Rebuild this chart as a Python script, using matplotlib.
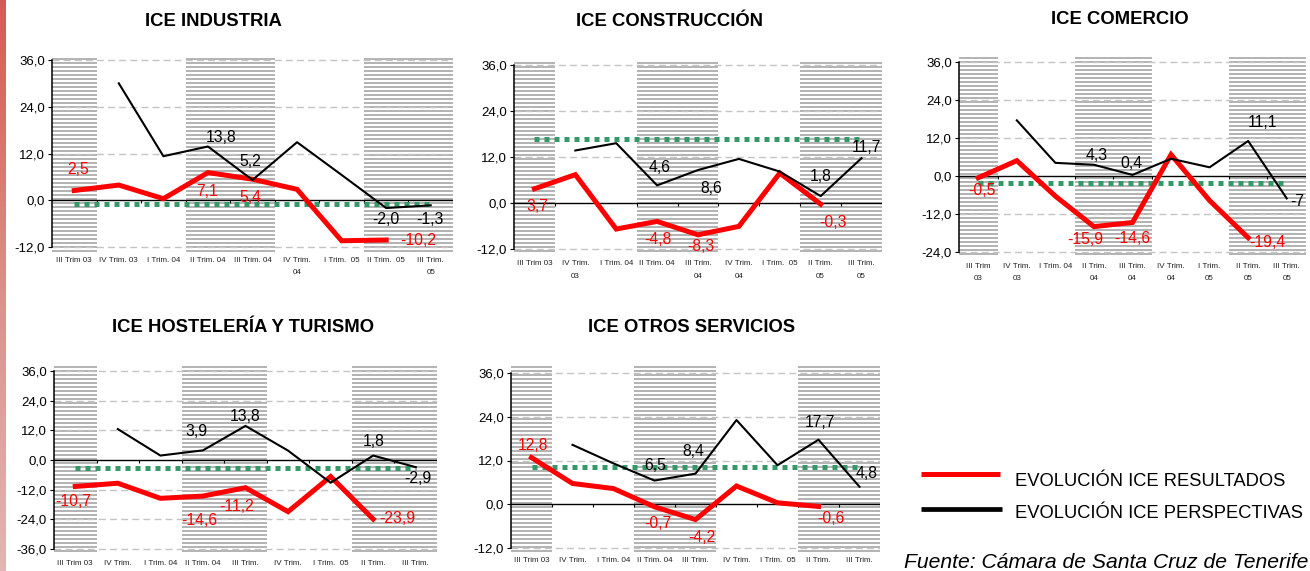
import matplotlib
matplotlib.use('Agg')
import matplotlib.pyplot as plt
import matplotlib.transforms as mtransforms
from matplotlib.colors import LinearSegmentedColormap
import numpy as np

plt.rcParams['font.family'] = ['Liberation Sans', 'DejaVu Sans']

nan = np.nan

# ------------------------------------------------------------------ data
TITLES = ["ICE INDUSTRIA", "ICE CONSTRUCCIÓN", "ICE COMERCIO",
          "ICE HOSTELERÍA Y TURISMO", "ICE OTROS SERVICIOS"]

CATS_IND = ["III Trim 03", "IV Trim. 03", "I Trim. 04", "II Trim. 04", "III Trim. 04",
            "IV Trim.\n04", "I Trim.  05", "II Trim.  05", "III Trim.\n05"]
CATS_CON = ["III Trim 03", "IV Trim.\n03", "I Trim. 04", "II Trim. 04", "III Trim.\n04",
            "IV Trim.\n04", "I Trim.  05", "II Trim.\n05", "III Trim.\n05"]
CATS_COM = ["III Trim\n03", "IV Trim.\n03", "I Trim. 04", "II Trim.\n04", "III Trim.\n04",
            "IV Trim.\n04", "I Trim.\n05", "II Trim.\n05", "III Trim.\n05"]
CATS_HOS = ["III Trim 03", "IV Trim.", "I Trim. 04", "II Trim. 04", "III Trim.",
            "IV Trim.", "I Trim.  05", "II Trim.", "III Trim."]
CATS_OTR = ["III Trim 03", "IV Trim.", "I Trim. 04", "II Trim. 04", "III Trim.",
            "IV Trim.", "I Trim.  05", "II Trim.", "III Trim."]

RES_IND = [2.5, 3.9, 0.4, 7.1, 5.4, 2.8, -10.4, -10.2, nan]
PER_IND = [nan, 30.0, 11.3, 13.8, 5.2, 14.9, 6.5, -2.0, -1.3]
MEAN_IND = -1.0

RES_CON = [3.7, 7.4, -6.8, -4.8, -8.3, -6.1, 7.8, -0.3, nan]
PER_CON = [nan, 13.7, 15.6, 4.6, 8.6, 11.5, 8.2, 1.8, 11.7]
MEAN_CON = 16.7

RES_COM = [-0.5, 4.9, -6.3, -15.9, -14.6, 6.8, -7.7, -19.4, nan]
PER_COM = [nan, 17.6, 4.2, 3.6, 0.4, 5.5, 2.8, 11.1, -7.0]
MEAN_COM = -2.1

RES_HOS = [-10.7, -9.4, -15.5, -14.6, -11.2, -20.9, -6.7, -23.9, nan]
PER_HOS = [nan, 12.5, 1.8, 3.9, 13.8, 3.8, -9.2, 1.8, -2.9]
MEAN_HOS = -3.1

RES_OTR = [12.8, 5.7, 4.3, -0.7, -4.2, 5.0, 0.4, -0.6, nan]
PER_OTR = [nan, 16.3, 11.2, 6.5, 8.4, 23.1, 10.7, 17.7, 4.8]
MEAN_OTR = 10.3

YT_IND = [-12, 0, 12, 24, 36]
YT_CON = [-12, 0, 12, 24, 36]
YT_COM = [-24, -12, 0, 12, 24, 36]
YT_HOS = [-36, -24, -12, 0, 12, 24, 36]
YT_OTR = [-12, 0, 12, 24, 36]

# data labels (index, text)
LAB_RES_IND = [(0, "2,5"), (3, "7,1"), (4, "5,4"), (7, "-10,2")]
LAB_PER_IND = [(3, "13,8"), (4, "5,2"), (7, "-2,0"), (8, "-1,3")]
LAB_RES_CON = [(0, "3,7"), (3, "-4,8"), (4, "-8,3"), (7, "-0,3")]
LAB_PER_CON = [(3, "4,6"), (4, "8,6"), (7, "1,8"), (8, "11,7")]
LAB_RES_COM = [(0, "-0,5"), (3, "-15,9"), (4, "-14,6"), (7, "-19,4")]
LAB_PER_COM = [(3, "4,3"), (4, "0,4"), (7, "11,1"), (8, "-7")]
LAB_RES_HOS = [(0, "-10,7"), (3, "-14,6"), (4, "-11,2"), (7, "-23,9")]
LAB_PER_HOS = [(3, "3,9"), (4, "13,8"), (7, "1,8"), (8, "-2,9")]
LAB_RES_OTR = [(0, "12,8"), (3, "-0,7"), (4, "-4,2"), (7, "-0,6")]
LAB_PER_OTR = [(3, "6,5"), (4, "8,4"), (7, "17,7"), (8, "4,8")]

LEGEND_RES = "EVOLUCIÓN ICE RESULTADOS"
LEGEND_PER = "EVOLUCIÓN ICE PERSPECTIVAS"
SOURCE = "Fuente: Cámara de Santa Cruz de Tenerife"

# ------------------------------------------------------------------ layout / style
W, H = 1310, 571
RED = '#ff0000'
GREEN = '#339966'
STRIPE = '#b4b4b4'
GRID = '#c4c4c4'

# label offsets (pixels right, pixels down)
OFF_RES = [
    [(4, -20.6), (-1, 19.4), (-2, 18.7), (32.5, 1)],
    [(3, 18), (1, 18.6), (3, 12), (12, 18)],
    [(4, 13), (-9, 12.5), (0, 16.5), (19.5, 4.5)],
    [(-2, 15), (-4, 24), (-8.5, 19), (24, -1)],
    [(1.5, -12), (3.5, 17), (6.5, 18), (12.5, 12)],
]
OFF_PER = [
    [(13, -8.5), (-2, -18), (0, 11), (-1, 14.6)],
    [(3, -18), (13, 18), (0, -20), (5, -11)],
    [(3, -9), (-1, -11), (14.5, -18), (11, 3.5)],
    [(-7, -18.7), (0, -9), (0, -14), (2, 11)],
    [(0.5, -15), (-2.5, -22), (1.5, -17), (7.5, -13.4)],
]

# (left, top, right, bottom) px, (px of top tick, px of bottom tick), title centre, label pad px
PANELS = [
    dict(box=(52, 58, 453, 253), tpx=(60, 247), title=(213, 22), pad=4),
    dict(box=(514, 62, 882, 255), tpx=(65, 249), title=(670, 22), pad=5),
    dict(box=(959, 57, 1306, 255), tpx=(62, 252.3), title=(1120, 19), pad=8),
    dict(box=(54, 366, 437, 552), tpx=(371, 549), title=(243, 328), pad=8),
    dict(box=(511, 366, 880, 552), tpx=(373, 548), title=(692, 328), pad=5),
]

SERIES = [
    (CATS_IND, RES_IND, PER_IND, MEAN_IND, YT_IND, LAB_RES_IND, LAB_PER_IND),
    (CATS_CON, RES_CON, PER_CON, MEAN_CON, YT_CON, LAB_RES_CON, LAB_PER_CON),
    (CATS_COM, RES_COM, PER_COM, MEAN_COM, YT_COM, LAB_RES_COM, LAB_PER_COM),
    (CATS_HOS, RES_HOS, PER_HOS, MEAN_HOS, YT_HOS, LAB_RES_HOS, LAB_PER_HOS),
    (CATS_OTR, RES_OTR, PER_OTR, MEAN_OTR, YT_OTR, LAB_RES_OTR, LAB_PER_OTR),
]

fig = plt.figure(figsize=(W / 100, H / 100), dpi=100)

# background overlay (pixel coordinates)
bg = fig.add_axes([0, 0, 1, 1], zorder=-10)
bg.axis('off')
grad = np.linspace(0, 1, 256).reshape(-1, 1)
cmap = LinearSegmentedColormap.from_list('strip', ['#d35c52', '#dc8f8a', '#e6b4b4'])
bg.imshow(grad, cmap=cmap, extent=(0, 6, H, 0), aspect='auto')
bg.set_xlim(0, W)
bg.set_ylim(H, 0)


def fmt(v):
    return f"{v:.1f}".replace('.', ',')


for k, (spec, ser) in enumerate(zip(PANELS, SERIES)):
    cats, res, per, mean, yt, lres, lper = ser
    l, t, r, b = spec['box']
    ptop, pbot = spec['tpx']
    ymin, ymax = yt[0], yt[-1]
    s = (pbot - ptop) / (ymax - ymin)
    hi = ymax + (ptop - t) / s
    lo = ymin - (b - pbot) / s
    ax = fig.add_axes([l / W, 1 - b / H, (r - l) / W, (b - t) / H])
    n = len(cats)
    x = np.arange(n)
    ax.set_xlim(-0.5, n - 0.5)
    ax.set_ylim(lo, hi)

    # striped bands
    hpx = b - t
    ys = np.arange(1.0 - 1.0 / hpx, 0, -4.0 / hpx)
    trans = mtransforms.blended_transform_factory(ax.transData, ax.transAxes)
    for x0, x1 in [(-0.5, 0.5), (2.5, 4.5), (6.5, 8.5)]:
        ax.hlines(ys, x0, x1, colors=STRIPE, lw=1.44, transform=trans, zorder=0)

    # dashed gridlines
    for v in yt:
        if v != 0:
            ax.axhline(v, color=GRID, lw=1.0, ls=(0, (5, 3)), zorder=1)
    ax.axhline(0, color='black', lw=1.0, zorder=2)
    # boundary ticks on the zero line
    ax.vlines(np.arange(0.5, n - 0.5 + 0.01, 1.0), 0, -3.0 / s, color='black', lw=0.8, zorder=2)

    # average (dotted green)
    ax.plot([0, n - 1], [mean, mean], color=GREEN, lw=3.6, ls=(0, (1, 1)),
            solid_capstyle='butt', dash_capstyle='butt', zorder=3)

    ax.plot(x, res, color=RED, lw=3.6, zorder=4, solid_joinstyle='miter')
    ax.plot(x, per, color='black', lw=1.5, zorder=5)

    for (i, txt), (dx, dy) in zip(lres, OFF_RES[k]):
        ax.annotate(txt, (x[i], res[i]), xytext=(dx, -dy), textcoords='offset pixels',
                    ha='center', va='center', color=RED, fontsize=11.3, zorder=6)
    for (i, txt), (dx, dy) in zip(lper, OFF_PER[k]):
        ax.annotate(txt, (x[i], per[i]), xytext=(dx, -dy), textcoords='offset pixels',
                    ha='center', va='center', color='black', fontsize=11.3, zorder=6)

    # axes styling
    for sp in ['top', 'right', 'bottom']:
        ax.spines[sp].set_visible(False)
    ax.spines['left'].set_bounds(ymin, ymax)
    ax.spines['left'].set_linewidth(1.1)
    ax.spines['left'].set_zorder(5)
    ax.set_yticks(yt)
    ax.set_yticklabels([fmt(v) for v in yt], fontsize=9.5)
    ax.tick_params(axis='y', direction='out', length=3, width=0.8, pad=2)
    ax.set_xticks(x)
    ax.set_xticklabels(cats, fontsize=5.8, color='#222222')
    ax.tick_params(axis='x', length=0, pad=spec['pad'] * 0.72)
    for lab in ax.get_xticklabels():
        lab.set_linespacing(2.1)
    ax.patch.set_alpha(0)

    tx, ty = spec['title']
    bg.text(tx, ty, TITLES[k], ha='center', va='center', fontsize=13.3,
            fontweight='bold', color='black')

# legend
bg.plot([921, 1000], [474.3, 474.3], color=RED, lw=3.6, solid_capstyle='butt')
bg.plot([921, 1002], [509.3, 509.3], color='black', lw=3.4, solid_capstyle='butt')
bg.text(1015, 482, LEGEND_RES, ha='left', va='center', fontsize=13.2, color='black')
bg.text(1015, 513.5, LEGEND_PER, ha='left', va='center', fontsize=13.2, color='black')
bg.text(1308, 562.5, SOURCE, ha='right', va='center', fontsize=15.2,
        style='italic', color='black')

fig.savefig('out.png', dpi=100)
